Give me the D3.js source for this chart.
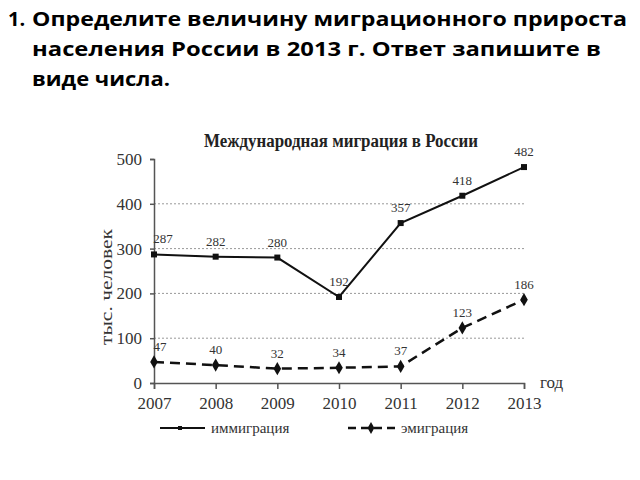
<!DOCTYPE html>
<html><head><meta charset="utf-8">
<script src="https://cdn.jsdelivr.net/npm/d3@7"></script>
<style>body{margin:0;background:#fff}svg{display:block}</style>
</head><body>
<script>
const years = [2007, 2008, 2009, 2010, 2011, 2012, 2013];
const immigration = [287, 282, 280, 192, 357, 418, 482];
const emigration = [47, 40, 32, 34, 37, 123, 186];
const yTicks = [0, 100, 200, 300, 400, 500];
const gridTicks = [100, 200, 300, 400];
const headerLines = ["Определите величину миграционного прироста", "населения России в 2013 г.  Ответ запишите в", "виде числа."];
const chartTitle = "Международная миграция в России";
const seriesNames = ["иммиграция", "эмиграция"];

const svg = d3.select("body").append("svg").attr("width", 640).attr("height", 480);
const serif = "'Liberation Serif', 'DejaVu Serif', serif";
const sans = "'Open Sans', Roboto, 'Liberation Sans', sans-serif";

// header
svg.append("text").attr("x", 8).attr("y", 26).attr("font-family", sans).attr("font-weight", "bold")
  .attr("font-size", 20).attr("fill", "#000").text("1.");
const hw = [595, 569, 138];
headerLines.forEach((t, i) => {
  svg.append("text").attr("x", 32).attr("y", 26 + i * 30).attr("font-family", sans).attr("font-weight", "bold")
    .attr("font-size", 20).attr("fill", "#000").attr("textLength", hw[i]).attr("lengthAdjust", "spacingAndGlyphs").text(t);
});

const x = d3.scalePoint().domain(years).range([154, 524]);
const y = d3.scaleLinear().domain([0, 500]).range([383, 159]);

// title
svg.append("text").attr("x", 341).attr("y", 147).attr("text-anchor", "middle").attr("font-family", serif)
  .attr("font-weight", "bold").attr("font-size", 18).attr("fill", "#222").attr("textLength", 274)
  .attr("lengthAdjust", "spacingAndGlyphs").text(chartTitle);

// grid
svg.append("g").selectAll("line").data(gridTicks).join("line")
  .attr("x1", 154).attr("x2", 525).attr("y1", d => y(d)).attr("y2", d => y(d))
  .attr("stroke", "#999").attr("stroke-width", 1).attr("stroke-dasharray", "2,2");

// y axis
const yAxis = svg.append("g").attr("transform", "translate(154,0)")
  .call(d3.axisLeft(y).tickValues(yTicks).tickSize(4).tickPadding(8));
yAxis.select(".domain").attr("stroke", "#555").attr("stroke-width", 1.5);
yAxis.selectAll(".tick line").attr("stroke", "#555").attr("stroke-width", 1.5);
yAxis.selectAll("text").attr("font-family", serif).attr("font-size", 17).attr("fill", "#333");

// x axis
const xAxis = svg.append("g").attr("transform", "translate(0,383)")
  .call(d3.axisBottom(x).tickSize(6).tickPadding(8).tickFormat(d3.format("d")));
xAxis.select(".domain").attr("stroke", "#555").attr("stroke-width", 1.5);
xAxis.selectAll(".tick line").attr("stroke", "#555").attr("stroke-width", 1.5);
xAxis.selectAll("text").attr("font-family", serif).attr("font-size", 17).attr("fill", "#333");

// axis labels
svg.append("text").attr("transform", "translate(112,287) rotate(-90)").attr("text-anchor", "middle")
  .attr("font-family", serif).attr("font-size", 16).attr("fill", "#333")
  .attr("textLength", 116).attr("lengthAdjust", "spacingAndGlyphs").text("тыс. человек");
svg.append("text").attr("x", 540).attr("y", 388).attr("font-family", serif).attr("font-size", 17)
  .attr("fill", "#333").text("год");

const line = d3.line().x((d, i) => x(years[i])).y(d => y(d));

// immigration
svg.append("path").datum(immigration).attr("d", line).attr("fill", "none").attr("stroke", "#111").attr("stroke-width", 2);
svg.append("g").selectAll("rect").data(immigration).join("rect")
  .attr("x", (d, i) => x(years[i]) - 3).attr("y", d => y(d) - 3).attr("width", 6).attr("height", 6).attr("fill", "#111");

// emigration
svg.append("path").datum(emigration).attr("d", line).attr("fill", "none").attr("stroke", "#111").attr("stroke-width", 2.5)
  .attr("stroke-dasharray", "10,6");
const diamond = d3.symbol().type(d3.symbolDiamond).size(50);
svg.append("g").selectAll("path").data(emigration).join("path")
  .attr("transform", (d, i) => `translate(${x(years[i])},${y(d)})`).attr("d", diamond).attr("fill", "#111");

// value labels
function labels(data, dx0) {
  svg.append("g").selectAll("text").data(data).join("text")
    .attr("x", (d, i) => x(years[i]) + (i === 0 ? dx0 : 0)).attr("y", d => y(d) - 11)
    .attr("text-anchor", "middle").attr("font-family", serif).attr("font-size", 13).attr("fill", "#333").text(d => d);
}
labels(immigration, 9);
labels(emigration, 6);

// legend
const lg = svg.append("g");
lg.append("line").attr("x1", 160).attr("x2", 205).attr("y1", 428).attr("y2", 428).attr("stroke", "#111").attr("stroke-width", 2);
lg.append("rect").attr("x", 178).attr("y", 426).attr("width", 4).attr("height", 4).attr("fill", "#111");
lg.append("text").attr("x", 211).attr("y", 433).attr("font-family", serif).attr("font-size", 15).attr("fill", "#333").text(seriesNames[0]);
lg.append("line").attr("x1", 348).attr("x2", 395).attr("y1", 428).attr("y2", 428).attr("stroke", "#111").attr("stroke-width", 2.5).attr("stroke-dasharray", "8,5");
lg.append("path").attr("transform", "translate(371,428)").attr("d", d3.symbol().type(d3.symbolDiamond).size(40)).attr("fill", "#111");
lg.append("text").attr("x", 401).attr("y", 433).attr("font-family", serif).attr("font-size", 15).attr("fill", "#333").text(seriesNames[1]);
</script>
</body></html>
